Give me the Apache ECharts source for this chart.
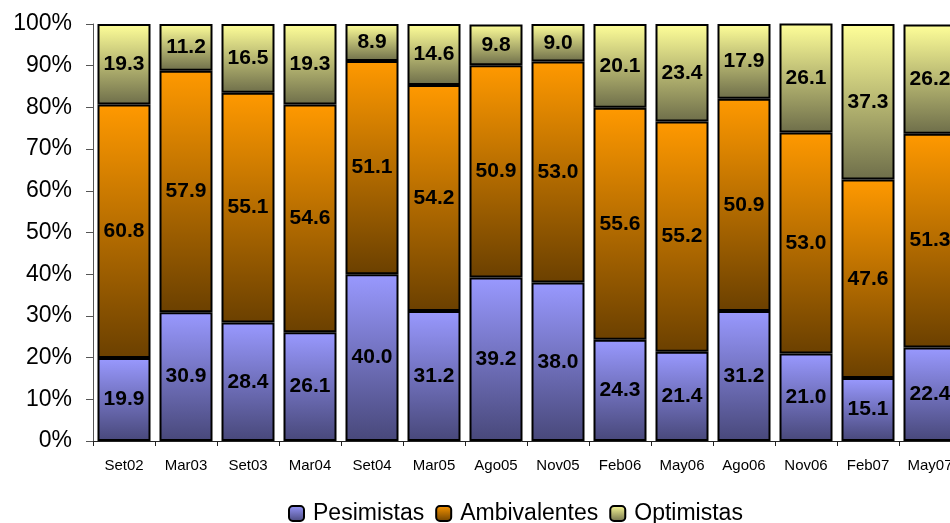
<!DOCTYPE html>
<html>
<head>
<meta charset="utf-8">
<script src="https://cdn.jsdelivr.net/npm/echarts@6/dist/echarts.min.js"></script>
<style>
html,body{margin:0;padding:0;background:#fff;}
#chart{width:950px;height:523px;}
</style>
</head>
<body>
<div id="chart"></div>
<script>
const categories = ['Set02','Mar03','Set03','Mar04','Set04','Mar05','Ago05','Nov05','Feb06','May06','Ago06','Nov06','Feb07','May07'];
const pesimistas = [19.9, 30.9, 28.4, 26.1, 40.0, 31.2, 39.2, 38.0, 24.3, 21.4, 31.2, 21.0, 15.1, 22.4];
const ambivalentes = [60.8, 57.9, 55.1, 54.6, 51.1, 54.2, 50.9, 53.0, 55.6, 55.2, 50.9, 53.0, 47.6, 51.3];
const optimistas = [19.3, 11.2, 16.5, 19.3, 8.9, 14.6, 9.8, 9.0, 20.1, 23.4, 17.9, 26.1, 37.3, 26.2];
const yTicks = [0,10,20,30,40,50,60,70,80,90,100];

const FONT = '"Liberation Sans", Arial, sans-serif';
function grad(top, bottom){
  return new echarts.graphic.LinearGradient(0,0,0,1,[{offset:0,color:top},{offset:1,color:bottom}]);
}
function mk(name, data, top, bottom){
  return {
    name: name, type: 'bar', stack: 'total', data: data, barWidth: 53,
    itemStyle: {color: grad(top,bottom), borderColor:'#000', borderWidth:2},
    label: {show:true, position:'inside', color:'#000', fontWeight:'bold', fontSize:21, fontFamily:FONT,
      formatter: p => Number(p.value).toFixed(1)},
    emphasis: {disabled:true}
  };
}
const chart = echarts.init(document.getElementById('chart'), null, {renderer:'canvas'});
chart.setOption({
  animation:false,
  backgroundColor:'#fff',
  grid:{left:93, top:24, height:417, width:868, containLabel:false, outerBoundsMode:'none'},
  legend:{
    left:283, top:497, itemWidth:15, itemHeight:15, itemGap:11,
    textStyle:{fontSize:23, color:'#000', fontFamily:FONT, padding:[0,0,0,4]},
    data:['Pesimistas','Ambivalentes','Optimistas']
  },
  xAxis:{
    type:'category', data:categories,
    axisLine:{show:true, lineStyle:{color:'#222', width:1}},
    axisTick:{show:true, alignWithLabel:false, interval:0, length:5, lineStyle:{color:'#222'}},
    axisLabel:{fontSize:15, color:'#000', fontFamily:FONT, margin:17, interval:0}
  },
  yAxis:{
    type:'value', min:0, max:100, interval:10,
    axisLine:{show:true, lineStyle:{color:'#555', width:1}},
    axisTick:{show:true, length:7, lineStyle:{color:'#555'}},
    splitLine:{show:false},
    axisLabel:{fontSize:23, color:'#000', fontFamily:FONT, margin:21,
      formatter: v => yTicks.includes(v) ? v + '%' : ''}
  },
  series:[
    mk('Pesimistas', pesimistas, '#9999ff', '#48487a'),
    mk('Ambivalentes', ambivalentes, '#ff9900', '#6b4000'),
    mk('Optimistas', optimistas, '#ffff99', '#6e6e4a')
  ]
});
</script>
</body>
</html>
